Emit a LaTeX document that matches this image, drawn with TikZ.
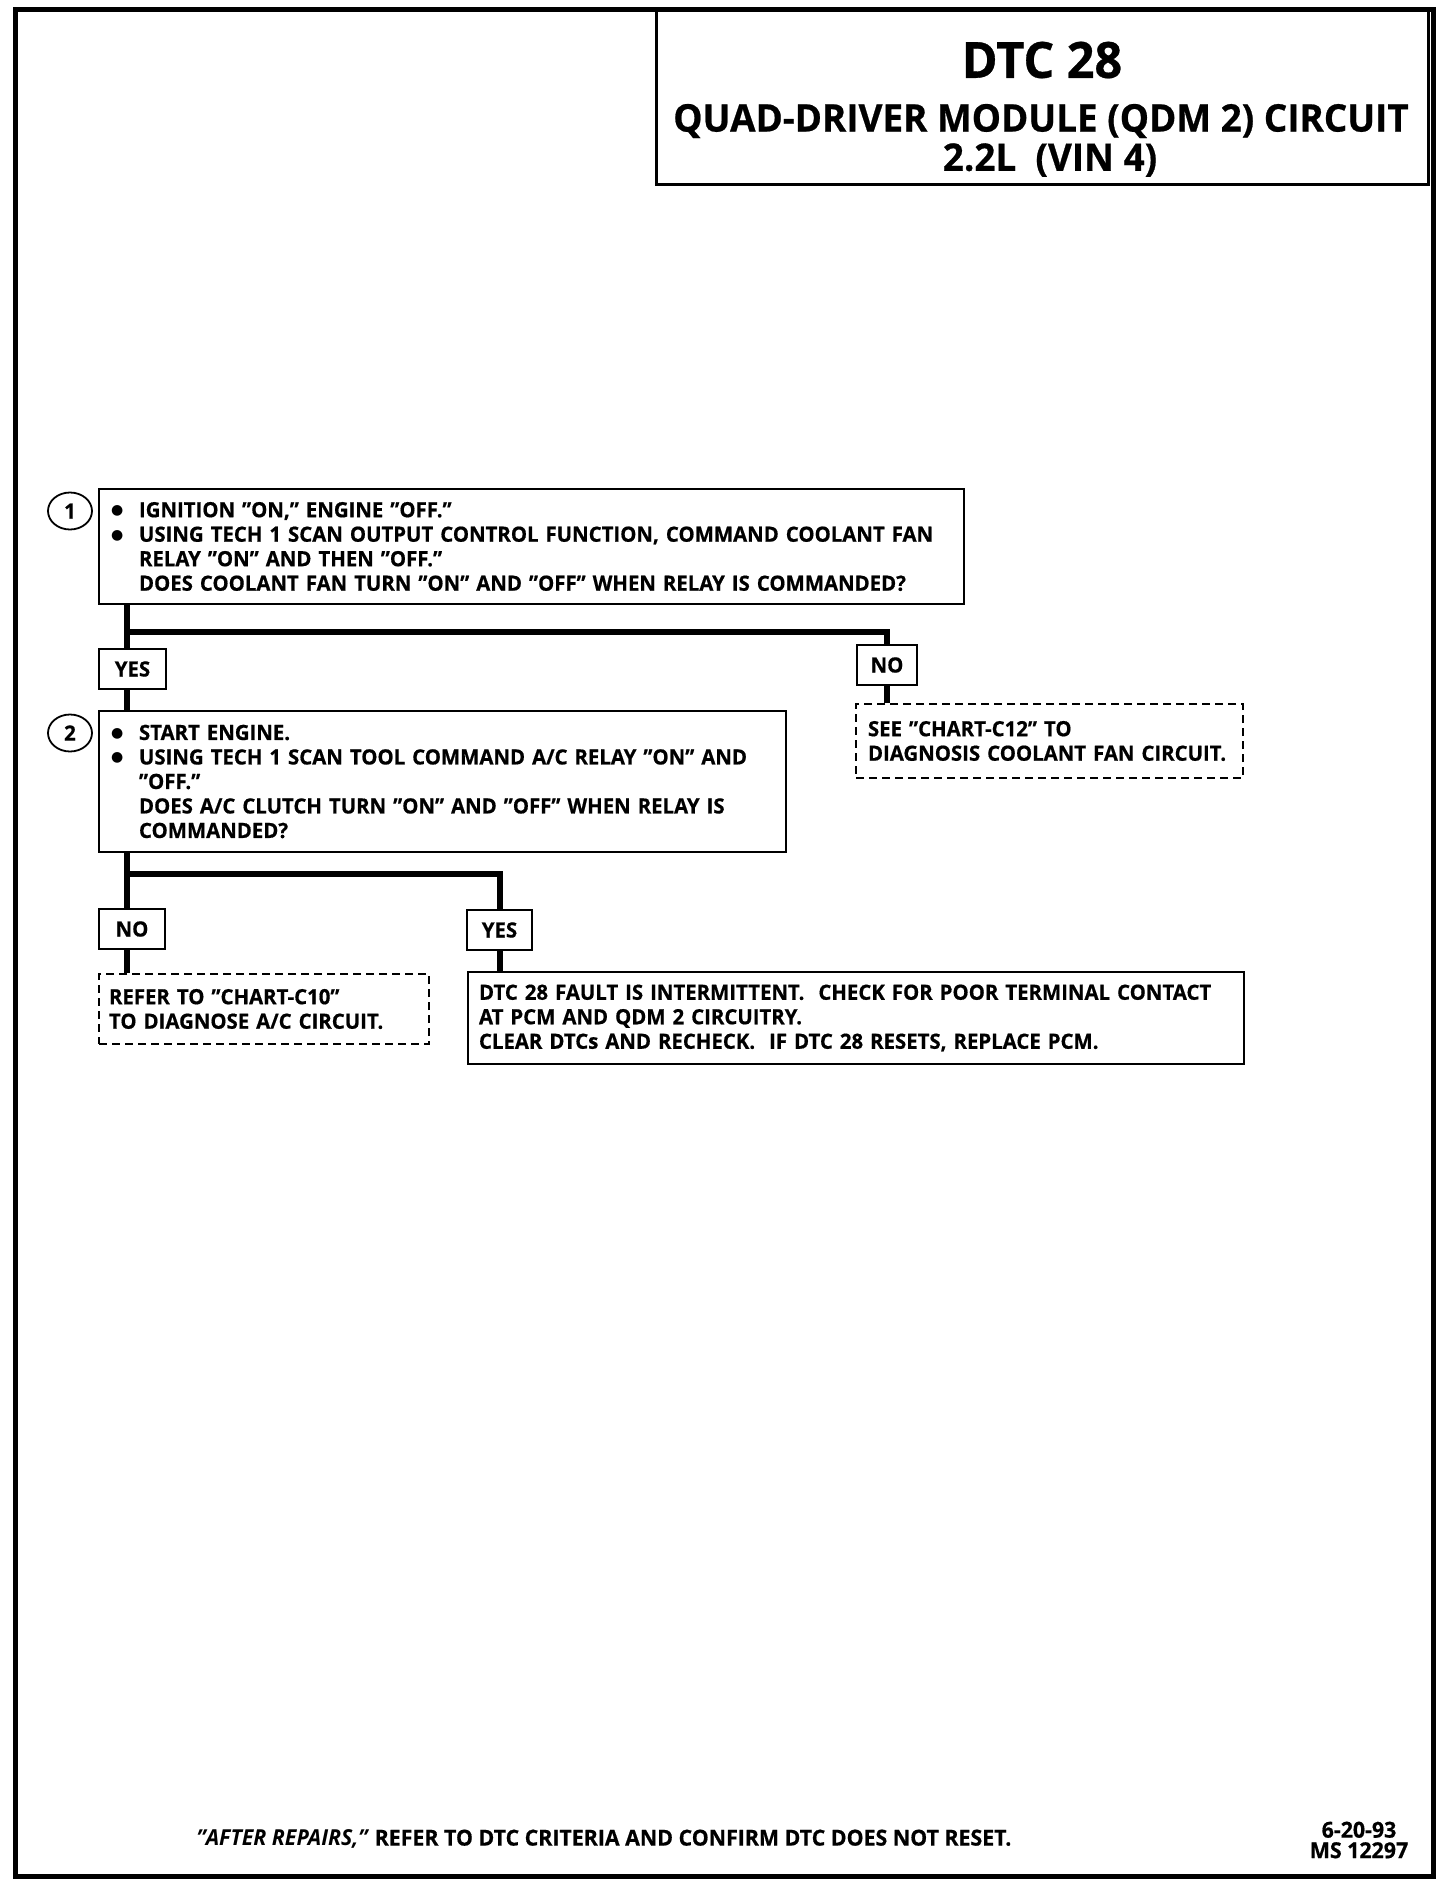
\documentclass[tikz,border=0pt]{standalone}
\usepackage{fontspec}
\setmainfont{Open Sans}[FakeStretch=0.97, BoldFeatures={FakeBold=0.6}]
\newfontfamily\symf{DejaVu Sans}
\usetikzlibrary{shapes.geometric}
\newcommand\bodyf{\fontsize{21}{24.5}\selectfont\bfseries}
\newcommand\bl{\makebox[28pt][l]{\raisebox{2.5pt}{\symf\fontsize{14}{14}\selectfont ●}}}
\newcommand\ind{\hspace*{28pt}}
\begin{document}
\begin{tikzpicture}[x=1pt,y=-1pt,
  box/.style={draw, line width=2pt, fill=white, anchor=north west, align=left,
    inner xsep=12pt, inner ysep=0pt, font=\bodyf},
  dbox/.style={box, dash pattern=on 8pt off 5pt},
  lbl/.style={draw, line width=2pt, fill=white, anchor=north west, inner sep=0pt, font=\bodyf},
  conn/.style={line width=6pt},
  num/.style={draw, ellipse, line width=1.8pt, minimum width=44pt, minimum height=37pt, inner sep=0pt, font=\bodyf}
]
\useasboundingbox (0,0) rectangle (1456,1888);
\fill[white] (0,0) rectangle (1456,1888);
\draw[line width=5pt] (15,9) rectangle (1433,1876);

% title
\node[draw, line width=2.5pt, anchor=north west, minimum width=772pt, minimum height=174pt] (title) at (655,9) {};
\node[font=\fontsize{50}{50}\selectfont\bfseries] (t1) at (1042,60) {DTC 28};
\node[font=\fontsize{38}{38}\selectfont\bfseries] (t2) at (1041,121) {QUAD-DRIVER MODULE (QDM 2) CIRCUIT};
\node[font=\fontsize{38}{38}\selectfont\bfseries] (t3) at (1050,160) {2.2L\ \ (VIN 4)};

% step 1
\node[box, minimum width=865pt, minimum height=115pt, text width=841pt] (b1) at (98,488) {%
\bl IGNITION "ON," ENGINE "OFF."\\
\bl USING TECH 1 SCAN OUTPUT CONTROL FUNCTION, COMMAND COOLANT FAN\\
\ind RELAY "ON" AND THEN "OFF."\\
\ind DOES COOLANT FAN TURN "ON" AND "OFF" WHEN RELAY IS COMMANDED?};
\node[num] (c1) at (70,511) {1};

\node[lbl, minimum width=67pt, minimum height=40pt] (yes1) at (98,648) {YES};
\node[lbl, minimum width=60pt, minimum height=40pt] (no1) at (856,644) {NO};

\node[dbox, minimum width=387pt, minimum height=74pt, text width=363pt] (d1) at (855,703) {%
SEE "CHART-C12" TO\\
DIAGNOSIS COOLANT FAN CIRCUIT.};

% step 2
\node[box, minimum width=687pt, minimum height=141pt, text width=663pt] (b2) at (98,710) {%
\bl START ENGINE.\\
\bl USING TECH 1 SCAN TOOL COMMAND A/C RELAY "ON" AND\\
\ind "OFF."\\
\ind DOES A/C CLUTCH TURN "ON" AND "OFF" WHEN RELAY IS\\
\ind COMMANDED?};
\node[num] (c2) at (70,733) {2};

\node[lbl, minimum width=66pt, minimum height=40pt] (no2) at (98,908) {NO};
\node[lbl, minimum width=65pt, minimum height=40pt] (yes2) at (466,909) {YES};

\node[dbox, minimum width=330pt, minimum height=70pt, text width=310pt, inner xsep=10pt] (d2) at (98,973) {%
REFER TO "CHART-C10"\\
TO DIAGNOSE A/C CIRCUIT.};

\node[box, minimum width=776pt, minimum height=92pt, text width=754pt, inner xsep=11pt] (b3) at (467,971) {%
DTC 28 FAULT IS INTERMITTENT.\ \ CHECK FOR POOR TERMINAL CONTACT\\
AT PCM AND QDM 2 CIRCUITRY.\\
CLEAR DTCs AND RECHECK.\ \ IF DTC 28 RESETS, REPLACE PCM.};

% connectors
\coordinate (tr) at (127,0);
\coordinate (j1) at (127,632);
\coordinate (j2) at (127,874);
\draw[conn] (b1.south -| tr) -- (yes1.north -| tr);
\draw[conn] (j1) -| (no1.north);
\draw[conn] (yes1.south -| tr) -- (b2.north -| tr);
\draw[conn] (no1.south) -- (no1.south |- d1.north);
\draw[conn] (b2.south -| tr) -- (no2.north -| tr);
\draw[conn] (j2) -| (yes2.north);
\draw[conn] (no2.south -| tr) -- (d2.north -| tr);
\draw[conn] (yes2.south) -- (yes2.south |- b3.north);

% footer
\node[font=\fontsize{22}{22}\selectfont\bfseries] (foot) at (604,1839) {\textit{"AFTER REPAIRS,"} REFER TO DTC CRITERIA AND CONFIRM DTC DOES NOT RESET.};
\node[font=\fontsize{22}{20.5}\selectfont\bfseries, align=center] (date) at (1359,1840) {6-20-93\\MS 12297};
\end{tikzpicture}
\end{document}
